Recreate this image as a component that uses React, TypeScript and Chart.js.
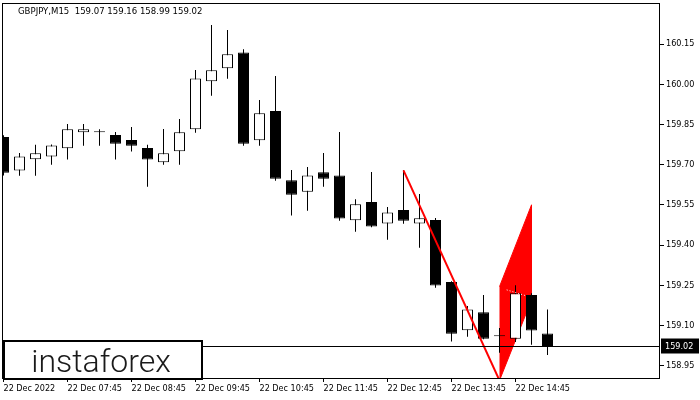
import React, { useEffect, useRef } from "react";
import { Chart, registerables } from "chart.js";

Chart.register(...registerables);

// ---- data ----
const symbolLabel = "GBPJPY,M15";
const timeLabels = [
  "22 Dec 2022",
  "22 Dec 07:45",
  "22 Dec 08:45",
  "22 Dec 09:45",
  "22 Dec 10:45",
  "22 Dec 11:45",
  "22 Dec 12:45",
  "22 Dec 13:45",
  "22 Dec 14:45",
];
const timeLabelIndex = [0, 4, 8, 12, 16, 20, 24, 28, 32];

const opens = [
  159.803, 159.678, 159.72, 159.731, 159.761, 159.821, 159.821, 159.811, 159.792, 159.762,
  159.709, 159.75, 159.832, 160.011, 160.06, 160.119, 159.791, 159.9, 159.642, 159.599,
  159.672, 159.66, 159.493, 159.561, 159.481, 159.531, 159.481, 159.494, 159.262, 159.082,
  159.149, 159.06, 159.051, 159.214, 159.07,
];
const highs = [
  159.81, 159.744, 159.774, 159.775, 159.852, 159.852, 159.832, 159.822, 159.841, 159.774,
  159.833, 159.871, 160.053, 160.221, 160.203, 160.131, 159.941, 160.031, 159.68, 159.691,
  159.744, 159.822, 159.571, 159.673, 159.542, 159.679, 159.591, 159.501, 159.265, 159.173,
  159.214, 159.091, 159.25, 159.22, 159.16,
];
const lows = [
  159.66, 159.659, 159.659, 159.7, 159.719, 159.771, 159.771, 159.719, 159.749, 159.618,
  159.7, 159.7, 159.819, 159.957, 160.021, 159.771, 159.771, 159.64, 159.51, 159.528,
  159.618, 159.491, 159.45, 159.467, 159.42, 159.48, 159.39, 159.241, 159.04, 159.058,
  159.049, 158.998, 159.038, 159.028, 158.99,
];
const closes = [
  159.67, 159.731, 159.743, 159.772, 159.832, 159.832, 159.821, 159.778, 159.771, 159.719,
  159.743, 159.821, 160.022, 160.052, 160.112, 159.778, 159.892, 159.648, 159.588, 159.66,
  159.648, 159.499, 159.552, 159.469, 159.522, 159.491, 159.5, 159.249, 159.069, 159.16,
  159.051, 159.06, 159.22, 159.081, 159.02,
];

const yTicks = [158.95, 159.1, 159.25, 159.4, 159.55, 159.7, 159.85, 160.0, 160.15];

// bearish flag pattern
const poleIndex = [25, 31];
const poleValues = [159.679, 158.895];
const flagIndex = [31, 33, 33, 31];
const flagValues = [159.245, 159.55, 159.195, 158.895];
const dotIndex = [31.45, 32.6];
const dotValues = [159.233, 159.212];

const X_MIN = -0.09375;
const X_MAX = 41.03125;
const Y_MIN = 158.9041;
const Y_MAX = 160.3034;

const FONT = "'DejaVu Sans Condensed', 'DejaVu Sans', 'Liberation Sans', sans-serif";

export default function App() {
  const ref = useRef<HTMLCanvasElement>(null);

  useEffect(() => {
    document.body.style.margin = "0";
    const canvas = ref.current;
    if (!canvas) return;
    const idx = opens.map((_, i) => i);
    const up = idx.map((i) => closes[i] >= opens[i]);
    const last = opens.length - 1;
    const lastPrice = closes[last];
    const title = `${symbolLabel}  ${opens[last].toFixed(2)} ${highs[last].toFixed(2)} ${lows[last].toFixed(2)} ${closes[last].toFixed(2)}`;

    const overlay = {
      id: "mt4overlay",
      afterDatasetsDraw(chart: any) {
        const { ctx, chartArea: a, scales } = chart;
        const py = Math.floor(scales.y.getPixelForValue(lastPrice)) + 0.5;
        ctx.save();
        // current price line
        ctx.strokeStyle = "#000";
        ctx.lineWidth = 1;
        ctx.beginPath();
        ctx.moveTo(a.left, py);
        ctx.lineTo(a.right, py);
        ctx.stroke();
        // frame
        ctx.strokeRect(a.left + 0.5, a.top + 0.5, a.right - a.left - 1, a.bottom - a.top);
        // logo box
        ctx.fillStyle = "#fff";
        ctx.fillRect(a.left + 1, a.bottom - 38, 200, 40);
        ctx.lineWidth = 2;
        ctx.strokeStyle = "#000";
        ctx.strokeRect(a.left + 2, a.bottom - 37, 198, 38);
        ctx.fillStyle = "#1a1a1a";
        ctx.font = "300 32px Roboto, 'Liberation Sans', Arial, sans-serif";
        ctx.textAlign = "center";
        ctx.textBaseline = "alphabetic";
        ctx.fillText("instaforex", a.left + 99, a.bottom - 6.5);
        // price tag
        ctx.fillStyle = "#000";
        ctx.fillRect(a.right + 1, py - 8, 38, 15);
        ctx.fillStyle = "#fff";
        ctx.font = `9px ${FONT}`;
        ctx.textAlign = "left";
        ctx.textBaseline = "middle";
        ctx.fillText(lastPrice.toFixed(2), a.right + 5, py);
        // title
        ctx.fillStyle = "#000";
        ctx.font = `9.5px ${FONT}`;
        ctx.fillText(title, 18, 11.5);
        ctx.restore();
      },
    };

    const axisGrid = {
      display: true,
      drawOnChartArea: false,
      drawTicks: true,
      tickLength: 4,
      color: "#000",
      offset: false,
    };

    const chart = new Chart(canvas, {
      type: "bar",
      data: {
        datasets: [
          {
            type: "line",
            label: "flag",
            data: flagIndex.map((x, i) => ({ x, y: flagValues[i] })),
            borderColor: "#ff0000",
            backgroundColor: "#ff0000",
            borderWidth: 1,
            pointRadius: 0,
            fill: "shape",
            tension: 0,
            clip: 0,
            order: 4,
          } as any,
          {
            type: "bar",
            label: "wick",
            data: idx.map((i) => ({ x: i, y: [lows[i], highs[i]] })),
            backgroundColor: "#000",
            borderWidth: 0,
            barThickness: 1,
            grouped: false,
            inflateAmount: 0,
            clip: 0,
            order: 3,
          } as any,
          {
            type: "bar",
            label: "body",
            data: idx.map((i) => ({ x: i, y: [opens[i], closes[i]] })),
            backgroundColor: up.map((u) => (u ? "#fff" : "#000")),
            borderColor: "#000",
            borderWidth: 1,
            borderSkipped: false,
            barThickness: 11,
            minBarLength: 1,
            grouped: false,
            inflateAmount: 0,
            clip: 0,
            order: 2,
          } as any,
          {
            type: "line",
            label: "pole",
            data: poleIndex.map((x, i) => ({ x, y: poleValues[i] })),
            borderColor: "#ff0000",
            borderWidth: 2,
            pointRadius: 0,
            fill: false,
            clip: 0,
            order: 1,
          } as any,
          {
            type: "line",
            label: "dots",
            data: dotIndex.map((x, i) => ({ x, y: dotValues[i] })),
            borderColor: "#ffffff",
            borderWidth: 1,
            borderDash: [1, 2],
            pointRadius: 0,
            fill: false,
            clip: 0,
            order: 0,
          } as any,
        ],
      },
      options: {
        responsive: false,
        animation: false,
        layout: { padding: { left: 2, top: 3, right: 0, bottom: 0 } },
        plugins: {
          legend: { display: false },
          tooltip: { enabled: false },
        },
        scales: {
          x: {
            type: "linear",
            min: X_MIN,
            max: X_MAX,
            offset: false,
            grid: axisGrid,
            border: { display: false },
            ticks: {
              autoSkip: false,
              maxRotation: 0,
              align: "start",
              padding: 1,
              color: "#000",
              font: { family: FONT, size: 9 },
              callback: (_v: any, i: number) => timeLabels[i],
            },
            afterBuildTicks: (s: any) => {
              s.ticks = timeLabelIndex.map((v) => ({ value: v }));
            },
            afterFit: (s: any) => {
              s.height = 22;
              s.paddingLeft = 0;
              s.paddingRight = 0;
            },
          },
          y: {
            type: "linear",
            position: "right",
            min: Y_MIN,
            max: Y_MAX,
            beginAtZero: false,
            grid: axisGrid,
            border: { display: false },
            ticks: {
              padding: 2,
              color: "#000",
              font: { family: FONT, size: 9 },
              callback: (v: any) => Number(v).toFixed(2),
            },
            afterBuildTicks: (s: any) => {
              s.ticks = yTicks.map((v) => ({ value: v }));
            },
            afterFit: (s: any) => {
              s.width = 40;
              s.paddingTop = 0;
              s.paddingBottom = 0;
            },
          },
        },
      } as any,
      plugins: [overlay],
    });

    return () => chart.destroy();
  }, []);

  return (
    <div style={{ width: 700, height: 400, background: "#fff" }}>
      <canvas ref={ref} width={700} height={400} style={{ display: "block" }} />
    </div>
  );
}
